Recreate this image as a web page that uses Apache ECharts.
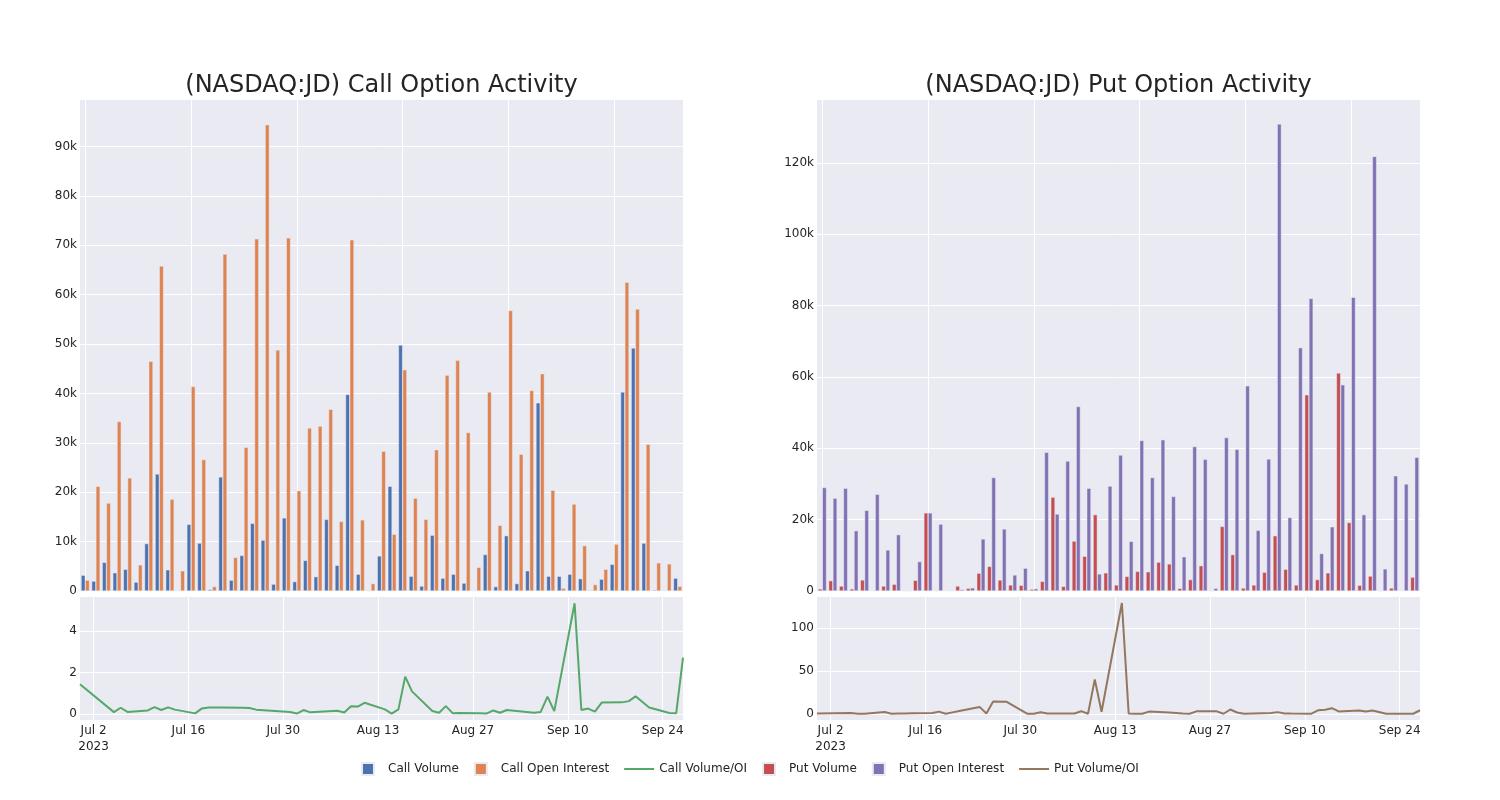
<!DOCTYPE html>
<html><head><meta charset="utf-8">
<script src="https://cdn.jsdelivr.net/npm/echarts@6/dist/echarts.min.js"></script>
<style>html,body{margin:0;padding:0;background:#fff}#chart{width:1500px;height:800px}</style>
</head><body><div id="chart"></div>
<script>
// ---- data ----
const tradeDates = ['2023-06-30','2023-07-05','2023-07-06','2023-07-07','2023-07-10','2023-07-11','2023-07-12','2023-07-13','2023-07-14',
'2023-07-17','2023-07-18','2023-07-19','2023-07-20','2023-07-21','2023-07-24','2023-07-25','2023-07-26','2023-07-31',
'2023-08-01','2023-08-02','2023-08-03','2023-08-07','2023-08-08','2023-08-09','2023-08-10','2023-08-11','2023-08-14',
'2023-08-15','2023-08-16','2023-08-17','2023-08-18','2023-08-21','2023-08-22','2023-08-23','2023-08-24','2023-08-25',
'2023-08-28','2023-08-29','2023-08-30','2023-08-31','2023-09-01','2023-09-05','2023-09-06','2023-09-07','2023-09-08',
'2023-09-11','2023-09-12','2023-09-13','2023-09-14','2023-09-15','2023-09-18','2023-09-19','2023-09-20','2023-09-22',
'2023-09-25','2023-09-26','2023-09-27'];

const callVolume = [3200,2000,5800,3700,4400,1800,9600,23700,4300,100,13500,9700,300,23100,2200,7200,13700,10300,1400,14800,
1900,6200,2900,14500,5200,39800,3400,30,7100,21200,49800,3000,1000,11300,2600,3400,1600,100,7400,900,11200,1500,4100,38100,
3000,3000,3400,2500,150,2400,5400,40300,49200,9700,200,100,2600];
const callOpenInterest = [2200,21200,17800,34300,22900,5300,46500,65800,18600,4100,41400,26600,900,68200,6800,29100,71300,94400,
48800,71500,20300,33000,33400,36800,14100,71100,14400,1500,28300,11500,44800,18800,14500,28600,43700,46700,32100,4800,40300,
13300,56800,27700,40600,44000,20400,570,17600,9200,1300,4400,9500,62500,57100,29700,5700,5500,950];
const callVolumeOI = [1.43,0.09,0.30,0.10,0.17,0.33,0.19,0.32,0.21,0.03,0.27,0.31,0.31,0.31,0.30,0.29,0.21,0.10,0.02,0.19,
0.08,0.16,0.07,0.37,0.36,0.54,0.22,0.02,0.22,1.80,1.09,0.14,0.06,0.38,0.04,0.05,0.04,0.02,0.17,0.06,0.19,0.06,0.10,0.84,
0.14,5.34,0.19,0.26,0.11,0.55,0.56,0.62,0.85,0.31,0.05,0.04,2.72];

const putVolume = [600,2900,1400,600,3100,100,1400,1900,0,3000,21900,0,100,1400,750,5000,6900,3100,1700,1600,500,2700,26300,
1300,14000,9750,21400,5100,1700,4100,5500,5400,8100,7600,750,3200,7100,0,18100,10200,850,1700,5250,15500,6100,1700,55000,
3200,5100,61100,19200,1600,4200,0,850,100,3900];
const putOpenInterest = [29000,26000,28800,16900,22600,27100,11500,15800,0,8250,21900,18750,0,400,900,14600,31800,17400,4500,
6400,650,38900,21600,36400,51700,28800,4800,29400,38100,13900,42200,31800,42400,26500,9600,40500,36900,750,43000,39700,57500,
17000,37000,130900,20600,68200,82000,10500,18000,57800,82300,21400,121800,6200,32300,30000,37500];

const putRatioDates = ['2023-06-30','2023-07-05','2023-07-06','2023-07-07','2023-07-10','2023-07-11','2023-07-12','2023-07-13','2023-07-14',
'2023-07-17','2023-07-18','2023-07-19','2023-07-20','2023-07-21','2023-07-24','2023-07-25','2023-07-26','2023-07-28','2023-07-31',
'2023-08-01','2023-08-02','2023-08-03','2023-08-07','2023-08-08','2023-08-09','2023-08-10','2023-08-11','2023-08-14',
'2023-08-15','2023-08-16','2023-08-17','2023-08-18','2023-08-21','2023-08-22','2023-08-23','2023-08-24','2023-08-25',
'2023-08-28','2023-08-29','2023-08-30','2023-08-31','2023-09-01','2023-09-05','2023-09-06','2023-09-07','2023-09-08',
'2023-09-11','2023-09-12','2023-09-13','2023-09-14','2023-09-15','2023-09-18','2023-09-19','2023-09-20','2023-09-22',
'2023-09-25','2023-09-26','2023-09-27'];
const putVolumeOI = [0.3,0.9,0.1,0.2,2.2,0.1,0.3,0.4,0.6,0.9,2.6,0.1,1.7,3.3,8.1,0.4,14.5,14.0,0.2,0.2,1.8,0.5,0.4,3.1,0.1,
40.2,2.5,129.5,0.5,0.1,0.1,2.6,1.6,1.1,0.5,0.1,2.9,2.9,0.1,5.1,1.6,0.1,0.9,2.0,0.4,0.3,0.2,4.3,4.7,6.6,2.8,3.9,2.8,3.9,
0.1,0.1,0.1,4.2];

const xTickDates = ['2023-07-02','2023-07-16','2023-07-30','2023-08-13','2023-08-27','2023-09-10','2023-09-24'];
const xTickLabels = ['Jul 2\n2023','Jul 16','Jul 30','Aug 13','Aug 27','Sep 10','Sep 24'];
const callRatioTicks = [0, 2, 4];
const putRatioTicks = [0, 50, 100];
const barGridEvery = 10; // a vertical gridline every 10th trading day

// ---- helpers ----
const ts = s => { const p = s.split('-').map(Number); return Date.UTC(p[0], p[1]-1, p[2]); };
const tickTs = xTickDates.map(ts);
const barGridTicks = tradeDates.map((d, i) => i).filter(i => i % barGridEvery === 0);
const kFmt = v => v === 0 ? '0' : (v/1000) + 'k';
const FONT = "'DejaVu Sans', Verdana, sans-serif";
const TXT = 'rgb(36,36,36)';
const BG = '#EAEAF2';
const colors = {cv:'#4C72B0', coi:'#DD8452', cr:'#55A868', pv:'#C44E52', poi:'#8172B3', pr:'#937860'};

const grids = [
  {left: 80, top: 100, width: 603, height: 491},
  {left: 80, top: 597, width: 603, height: 123},
  {left: 817, top: 100, width: 603, height: 491},
  {left: 817, top: 597, width: 603, height: 123}
].map(g => Object.assign({show: true, backgroundColor: BG, borderWidth: 0, containLabel: false}, g));

const whiteSplit = {show: true, lineStyle: {color: '#ffffff', width: 1}, showMinLine: false, showMaxLine: false};
const customSplit = {show: true, lineStyle: {color: '#ffffff', width: 1}};
const labelStyle = {color: TXT, fontFamily: FONT, fontSize: 12};

function catAxis(gi) {
  return {type: 'category', gridIndex: gi, data: tradeDates, boundaryGap: true,
    axisLine: {show: false}, axisTick: {show: false}, axisLabel: {show: false}, splitLine: {show: false}};
}
function helperAxis(gi) {
  return {type: 'value', gridIndex: gi, min: -0.5, max: tradeDates.length - 0.5, position: 'top',
    axisLine: {show: false}, axisTick: {show: false, customValues: barGridTicks},
    axisLabel: {show: false, customValues: barGridTicks}, splitLine: customSplit};
}
function dateAxis(gi) {
  return {type: 'value', gridIndex: gi, min: ts(tradeDates[0]), max: ts(tradeDates[tradeDates.length-1]),
    axisLine: {show: false},
    axisTick: {show: false, customValues: tickTs},
    axisLabel: Object.assign({customValues: tickTs, lineHeight: 16, margin: 3, hideOverlap: false,
      formatter: v => { const i = tickTs.indexOf(v); return i >= 0 ? xTickLabels[i] : ''; }}, labelStyle),
    splitLine: customSplit};
}
function barY(gi, max, interval) {
  return {type: 'value', gridIndex: gi, min: 0, max: max, interval: interval,
    axisLine: {show: false}, axisTick: {show: false},
    axisLabel: Object.assign({formatter: kFmt, showMaxLabel: false, margin: 3}, labelStyle),
    splitLine: whiteSplit};
}
function lineY(gi, min, max, ticks) {
  return {type: 'value', gridIndex: gi, min: min, max: max,
    axisLine: {show: false}, axisTick: {show: false, customValues: ticks},
    axisLabel: Object.assign({customValues: ticks, margin: 3}, labelStyle),
    splitLine: customSplit};
}
const barStyle = c => ({color: c, borderColor: BG, borderWidth: 0.5});
const SQUARE = 'path://M0,0h10v10h-10z';
const LINE = 'path://M0,0h30v2h-30z';

const option = {
  backgroundColor: '#ffffff',
  animation: false,
  textStyle: {fontFamily: FONT},
  title: [
    {text: '(NASDAQ:JD) Call Option Activity', left: 381.5, top: 74, textAlign: 'center', padding: 0,
      textStyle: {fontFamily: FONT, fontSize: 24, fontWeight: 'normal', color: TXT}},
    {text: '(NASDAQ:JD) Put Option Activity', left: 1118.5, top: 74, textAlign: 'center', padding: 0,
      textStyle: {fontFamily: FONT, fontSize: 24, fontWeight: 'normal', color: TXT}}
  ],
  legend: {
    left: 356, top: 757, itemWidth: 30, itemHeight: 12, itemGap: 15,
    textStyle: {fontFamily: FONT, fontSize: 12, color: TXT},
    data: [
      {name: 'Call Volume', icon: SQUARE},
      {name: 'Call Open Interest', icon: SQUARE},
      {name: 'Call Volume/OI', icon: LINE},
      {name: 'Put Volume', icon: SQUARE},
      {name: 'Put Open Interest', icon: SQUARE},
      {name: 'Put Volume/OI', icon: LINE}
    ]
  },
  grid: grids,
  xAxis: [catAxis(0), helperAxis(0), dateAxis(1), catAxis(2), helperAxis(2), dateAxis(3)],
  yAxis: [barY(0, 99400, 10000), lineY(1, -0.29, 5.64, callRatioTicks), barY(2, 137600, 20000), lineY(3, -7.2, 136.5, putRatioTicks)],
  series: [
    {name: 'Call Volume', type: 'bar', xAxisIndex: 0, yAxisIndex: 0, data: callVolume, itemStyle: barStyle(colors.cv),
      barGap: '0%', barCategoryGap: '20%'},
    {name: 'Call Open Interest', type: 'bar', xAxisIndex: 0, yAxisIndex: 0, data: callOpenInterest, itemStyle: barStyle(colors.coi),
      barGap: '0%', barCategoryGap: '20%'},
    {name: 'Call Volume/OI', type: 'line', xAxisIndex: 2, yAxisIndex: 1, showSymbol: false, symbol: 'none',
      data: tradeDates.map((d, i) => [ts(d), callVolumeOI[i]]), lineStyle: {color: colors.cr, width: 2}, itemStyle: {color: colors.cr}},
    {name: 'Put Volume', type: 'bar', xAxisIndex: 3, yAxisIndex: 2, data: putVolume, itemStyle: barStyle(colors.pv),
      barGap: '0%', barCategoryGap: '20%'},
    {name: 'Put Open Interest', type: 'bar', xAxisIndex: 3, yAxisIndex: 2, data: putOpenInterest, itemStyle: barStyle(colors.poi),
      barGap: '0%', barCategoryGap: '20%'},
    {name: 'Put Volume/OI', type: 'line', xAxisIndex: 5, yAxisIndex: 3, showSymbol: false, symbol: 'none',
      data: putRatioDates.map((d, i) => [ts(d), putVolumeOI[i]]), lineStyle: {color: colors.pr, width: 2}, itemStyle: {color: colors.pr}}
  ]
};
const chart = echarts.init(document.getElementById('chart'));
chart.setOption(option);
</script>
</body></html>
